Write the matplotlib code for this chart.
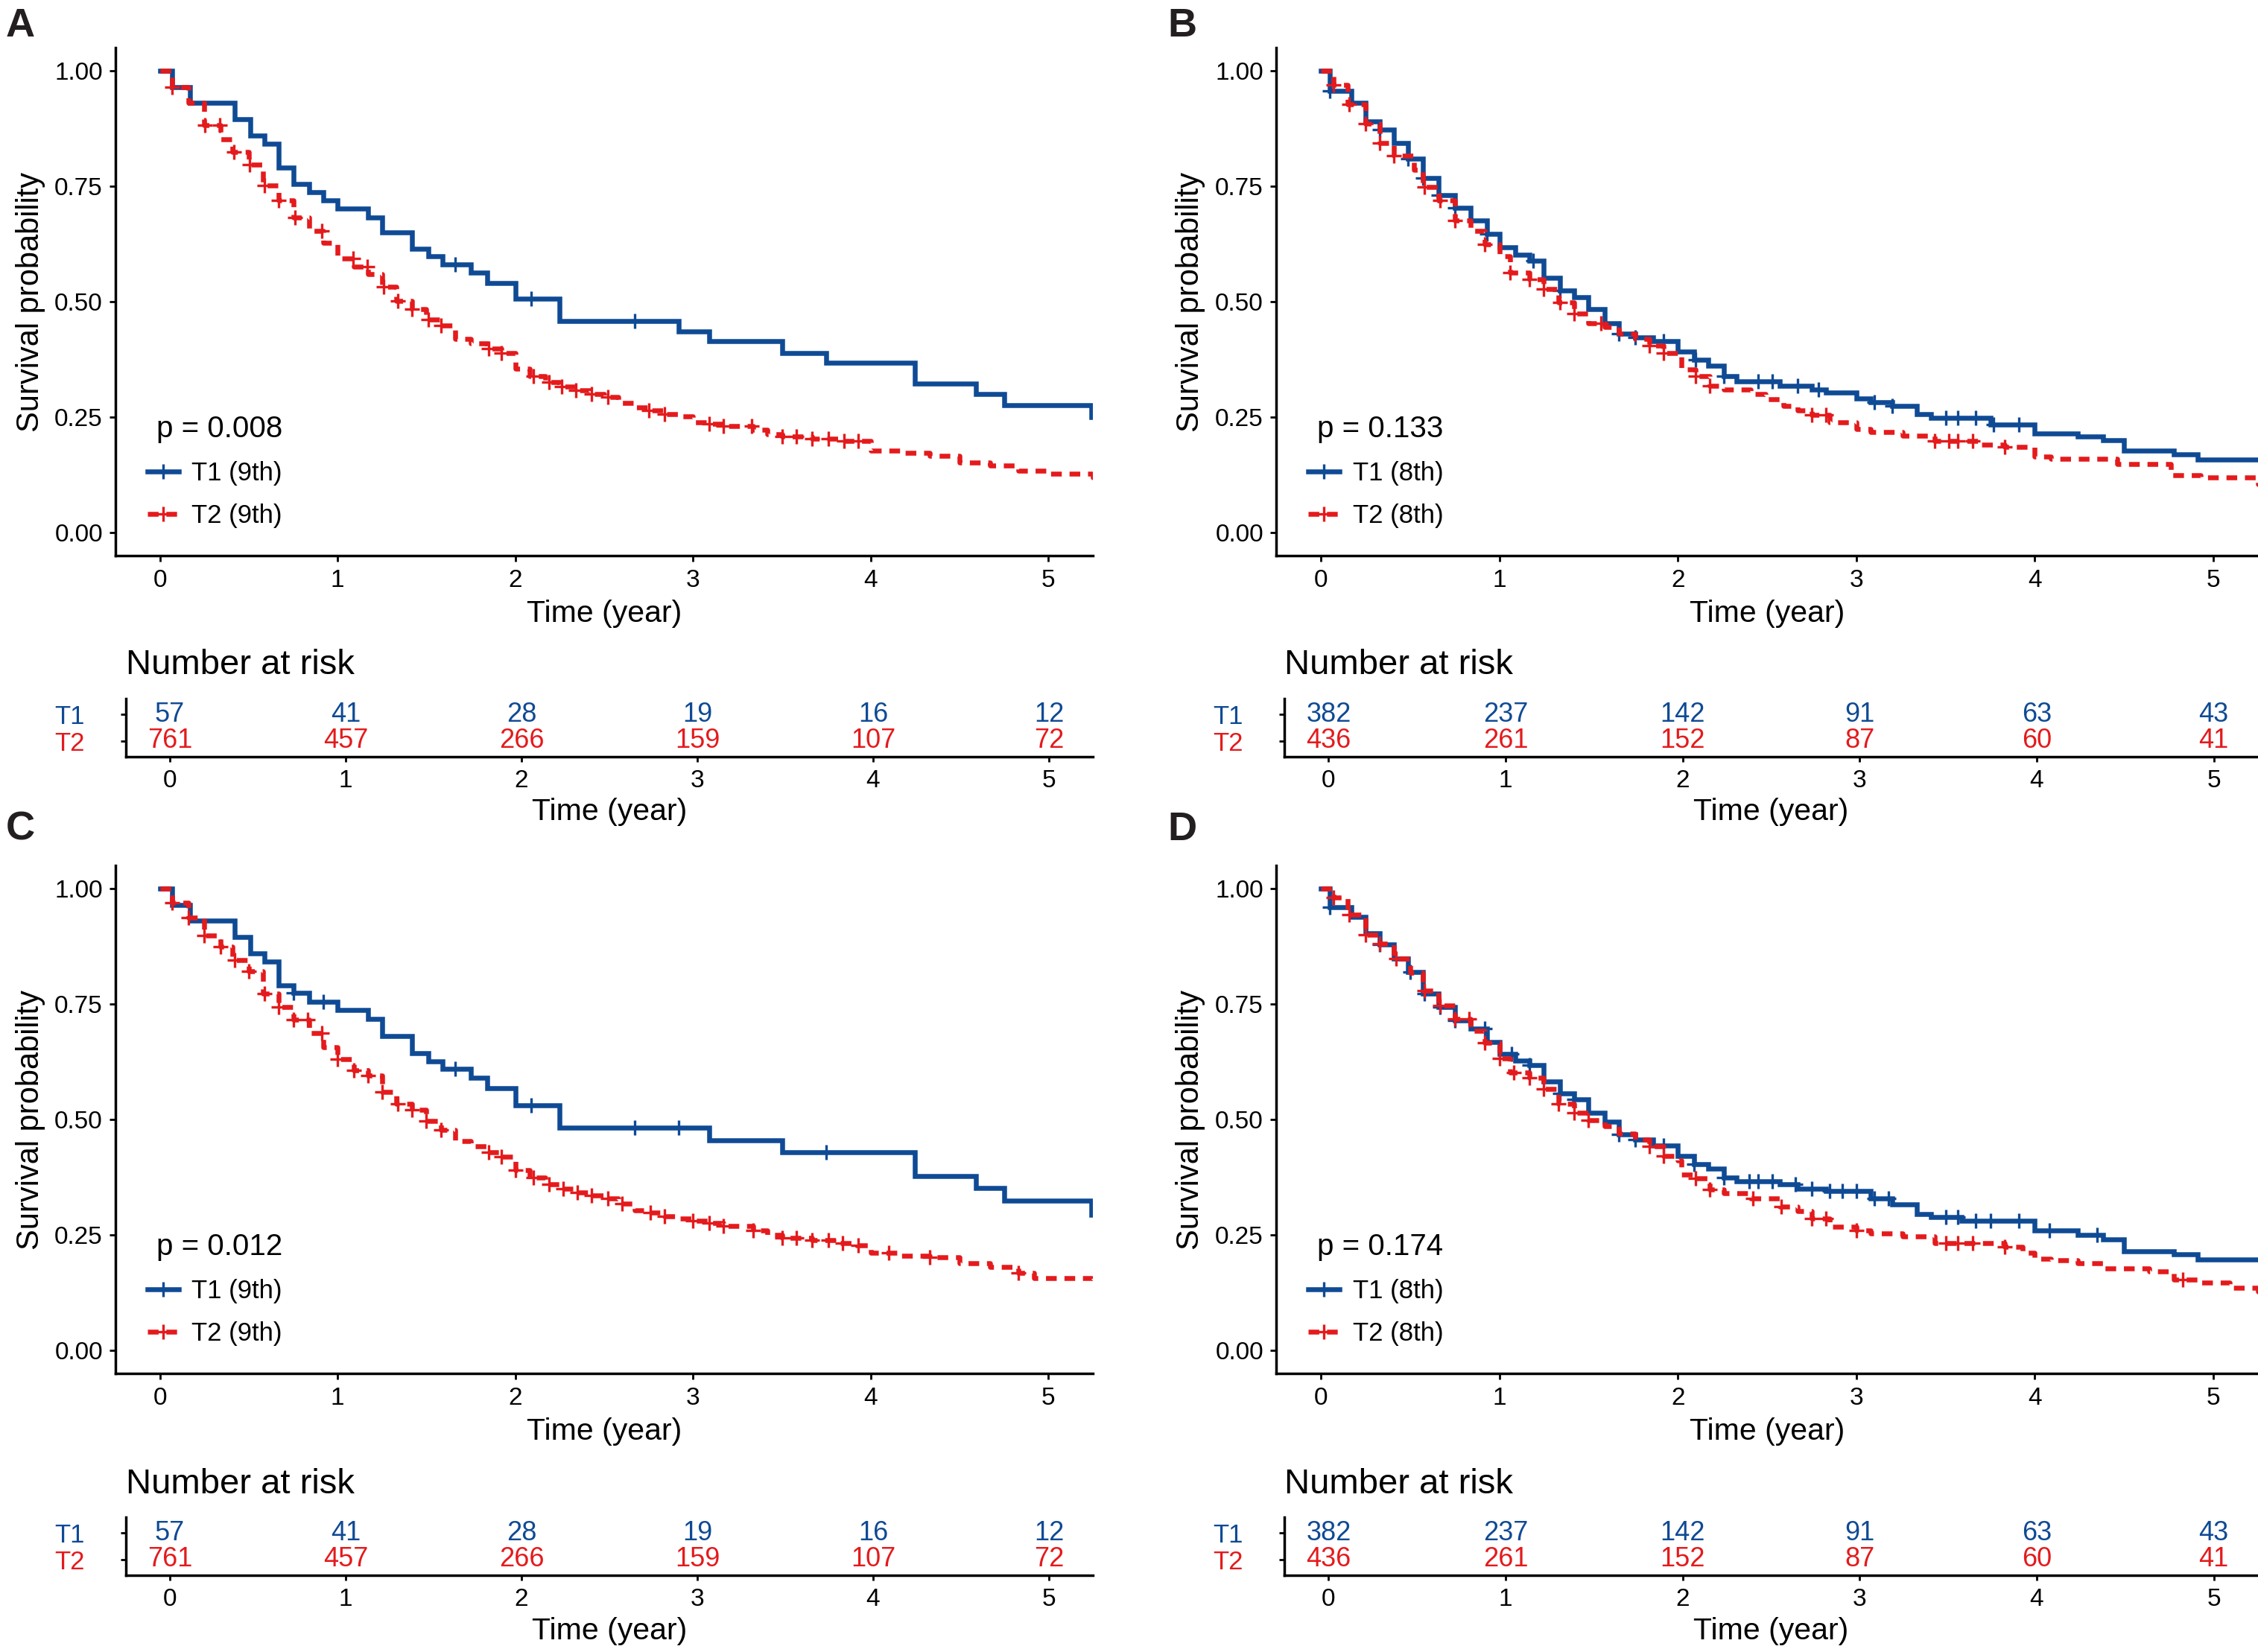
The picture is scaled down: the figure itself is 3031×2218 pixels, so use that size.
import numpy as np
import matplotlib
matplotlib.use('Agg')
import matplotlib.pyplot as plt
from matplotlib.lines import Line2D

plt.rcParams['font.family'] = ['Liberation Sans', 'DejaVu Sans']

# ---------------- data ----------------
years = [0, 1, 2, 3, 4, 5]

# Panel A: 9th edition
A_T1_t = [0, 0.07, 0.17, 0.42, 0.51, 0.59, 0.67, 0.75, 0.84, 0.92,
          1.0, 1.17, 1.25, 1.42, 1.51, 1.59, 1.75, 1.84, 2.0, 2.25,
          2.92, 3.09, 3.5, 3.75, 4.25, 4.59, 4.75, 5.24, 5.3]
A_T1_s = [1.0, 0.965, 0.93, 0.895, 0.86, 0.842, 0.79, 0.755, 0.737, 0.72,
          0.702, 0.683, 0.65, 0.615, 0.598, 0.58, 0.563, 0.541, 0.506, 0.458,
          0.436, 0.414, 0.389, 0.367, 0.322, 0.300, 0.276, 0.25, 0.25]
A_T1_c = [1.66, 2.09, 2.67]
A_T2_t = [0, 0.07, 0.16, 0.25, 0.34, 0.41, 0.5, 0.58, 0.67, 0.75,
          0.84, 0.92, 1.0, 1.09, 1.17, 1.25, 1.33, 1.42, 1.5, 1.58,
          1.66, 1.75, 1.84, 1.92, 2.0, 2.08, 2.17, 2.25, 2.34, 2.42,
          2.5, 2.58, 2.67, 2.75, 2.84, 2.92, 3.0, 3.09, 3.17, 3.34,
          3.42, 3.5, 3.67, 3.83, 4.0, 4.17, 4.33, 4.5, 4.67, 4.83,
          5.0, 5.25, 5.3]
A_T2_s = [1.0, 0.965, 0.93, 0.882, 0.851, 0.825, 0.796, 0.751, 0.72, 0.683,
          0.654, 0.628, 0.593, 0.576, 0.56, 0.532, 0.501, 0.484, 0.462, 0.449,
          0.42, 0.409, 0.399, 0.388, 0.355, 0.339, 0.326, 0.316, 0.308, 0.30,
          0.293, 0.28, 0.271, 0.265, 0.256, 0.252, 0.239, 0.236, 0.231, 0.223,
          0.213, 0.208, 0.204, 0.199, 0.178, 0.173, 0.166, 0.151, 0.145, 0.134,
          0.127, 0.119, 0.119]
A_T2_c = [0.07, 0.255, 0.336, 0.417, 0.506, 0.59, 0.67, 0.76, 0.91, 1.086,
          1.167, 1.26, 1.34, 1.42, 1.51, 1.58, 1.85, 1.92, 2.1, 2.19,
          2.26, 2.34, 2.43, 2.52, 2.75, 2.84, 3.09, 3.17, 3.33, 3.5,
          3.58, 3.67, 3.76, 3.85, 3.93]

# Panel B: 8th edition
B_T1_t = [0, 0.05, 0.17, 0.25, 0.33, 0.41, 0.49, 0.57, 0.66, 0.75,
          0.84, 0.93, 1.0, 1.09, 1.17, 1.25, 1.34, 1.42, 1.5, 1.59,
          1.67, 1.76, 1.86, 2.0, 2.09, 2.17, 2.26, 2.33, 2.57, 2.75,
          2.83, 3.0, 3.08, 3.2, 3.34, 3.42, 3.75, 4.0, 4.24, 4.38,
          4.5, 4.78, 4.91, 5.3]
B_T1_s = [1.0, 0.956, 0.93, 0.89, 0.873, 0.843, 0.809, 0.768, 0.731, 0.703,
          0.676, 0.647, 0.618, 0.602, 0.589, 0.551, 0.525, 0.51, 0.484, 0.453,
          0.431, 0.423, 0.414, 0.392, 0.374, 0.361, 0.339, 0.328, 0.318, 0.309,
          0.304, 0.291, 0.282, 0.275, 0.256, 0.248, 0.234, 0.215, 0.208, 0.20,
          0.178, 0.169, 0.158, 0.158]
B_T1_c = [0.05, 0.33, 0.49, 0.57, 0.66, 0.75, 0.93, 1.19, 1.34, 1.67,
          1.76, 1.92, 2.1, 2.26, 2.45, 2.53, 2.67, 2.79, 3.1, 3.2,
          3.5, 3.57, 3.67, 3.77, 3.91]
B_T2_t = [0, 0.07, 0.15, 0.25, 0.33, 0.41, 0.52, 0.57, 0.66, 0.75,
          0.84, 0.92, 1.0, 1.06, 1.17, 1.25, 1.33, 1.42, 1.5, 1.59,
          1.67, 1.76, 1.84, 1.92, 2.02, 2.1, 2.18, 2.26, 2.41, 2.49,
          2.59, 2.67, 2.75, 2.85, 3.0, 3.08, 3.26, 3.44, 3.69, 3.83,
          4.0, 4.09, 4.46, 4.76, 4.93, 5.25, 5.3]
B_T2_s = [1.0, 0.97, 0.927, 0.886, 0.843, 0.816, 0.786, 0.749, 0.72, 0.676,
          0.654, 0.624, 0.598, 0.563, 0.549, 0.528, 0.499, 0.475, 0.453, 0.445,
          0.431, 0.42, 0.405, 0.388, 0.353, 0.338, 0.318, 0.31, 0.30, 0.289,
          0.274, 0.265, 0.255, 0.239, 0.224, 0.217, 0.21, 0.199, 0.19, 0.185,
          0.164, 0.16, 0.149, 0.125, 0.12, 0.105, 0.105]
B_T2_c = [0.07, 0.16, 0.25, 0.33, 0.41, 0.58, 0.67, 0.75, 0.92, 1.06,
          1.17, 1.25, 1.34, 1.42, 1.57, 1.84, 1.92, 2.1, 2.18, 2.75,
          2.83, 3.44, 3.52, 3.57, 3.65, 3.83]

# Panel C: 9th edition
C_T1_t = [0, 0.07, 0.17, 0.42, 0.51, 0.59, 0.67, 0.75, 0.84, 1.0,
          1.17, 1.25, 1.42, 1.51, 1.59, 1.75, 1.84, 2.0, 2.25, 3.09,
          3.5, 4.25, 4.59, 4.75, 5.24, 5.3]
C_T1_s = [1.0, 0.965, 0.93, 0.895, 0.86, 0.842, 0.79, 0.775, 0.755, 0.737,
          0.718, 0.68, 0.643, 0.626, 0.61, 0.591, 0.567, 0.531, 0.482, 0.455,
          0.429, 0.377, 0.352, 0.324, 0.294, 0.294]
C_T1_c = [0.75, 0.92, 1.66, 2.09, 2.67, 2.92, 3.75]
C_T2_t = [0, 0.07, 0.16, 0.25, 0.34, 0.41, 0.5, 0.58, 0.67, 0.75,
          0.84, 0.92, 1.0, 1.09, 1.17, 1.25, 1.33, 1.42, 1.5, 1.58,
          1.66, 1.75, 1.84, 1.92, 2.0, 2.08, 2.17, 2.25, 2.34, 2.42,
          2.5, 2.58, 2.67, 2.75, 2.84, 2.92, 3.0, 3.09, 3.17, 3.34,
          3.42, 3.5, 3.67, 3.83, 3.92, 4.0, 4.17, 4.33, 4.5, 4.67,
          4.83, 4.92, 5.25, 5.3]
C_T2_s = [1.0, 0.97, 0.937, 0.899, 0.875, 0.845, 0.821, 0.773, 0.744, 0.716,
          0.687, 0.656, 0.63, 0.606, 0.595, 0.56, 0.534, 0.521, 0.497, 0.477,
          0.453, 0.442, 0.429, 0.42, 0.39, 0.374, 0.359, 0.35, 0.342, 0.336,
          0.329, 0.318, 0.304, 0.298, 0.291, 0.285, 0.28, 0.276, 0.269, 0.259,
          0.25, 0.243, 0.239, 0.232, 0.228, 0.211, 0.205, 0.202, 0.189, 0.18,
          0.167, 0.157, 0.145, 0.145]
C_T2_c = [0.07, 0.16, 0.25, 0.34, 0.42, 0.5, 0.59, 0.67, 0.75, 0.83,
          0.91, 1.0, 1.09, 1.17, 1.25, 1.34, 1.42, 1.5, 1.58, 1.85,
          1.92, 2.0, 2.1, 2.19, 2.27, 2.35, 2.43, 2.52, 2.6, 2.76,
          2.84, 3.0, 3.09, 3.17, 3.34, 3.5, 3.58, 3.67, 3.76, 3.84,
          3.93, 4.1, 4.33, 4.83]

# Panel D: 8th edition
D_T1_t = [0, 0.05, 0.17, 0.25, 0.33, 0.41, 0.49, 0.57, 0.66, 0.75,
          0.84, 0.93, 1.0, 1.09, 1.17, 1.25, 1.34, 1.42, 1.5, 1.59,
          1.67, 1.76, 1.86, 2.0, 2.09, 2.17, 2.26, 2.33, 2.57, 2.67,
          2.83, 3.08, 3.2, 3.34, 3.42, 3.59, 4.0, 4.24, 4.38, 4.5,
          4.78, 4.91, 5.3]
D_T1_s = [1.0, 0.96, 0.939, 0.904, 0.879, 0.849, 0.82, 0.773, 0.744, 0.715,
          0.696, 0.667, 0.642, 0.628, 0.617, 0.582, 0.556, 0.543, 0.514, 0.495,
          0.467, 0.456, 0.444, 0.421, 0.404, 0.394, 0.374, 0.366, 0.36, 0.35,
          0.345, 0.329, 0.316, 0.295, 0.288, 0.281, 0.259, 0.25, 0.241, 0.215,
          0.208, 0.196, 0.189]
D_T1_c = [0.05, 0.33, 0.5, 0.58, 0.67, 0.75, 0.92, 1.07, 1.17, 1.34,
          1.42, 1.67, 1.76, 1.92, 2.09, 2.26, 2.4, 2.45, 2.53, 2.66,
          2.75, 2.85, 2.92, 3.0, 3.1, 3.18, 3.5, 3.57, 3.67, 3.75,
          3.91, 4.08, 4.35]
D_T2_t = [0, 0.07, 0.15, 0.25, 0.33, 0.41, 0.5, 0.57, 0.66, 0.75, 0.84,
          0.92, 1.0, 1.06, 1.17, 1.25, 1.33, 1.42, 1.5, 1.59, 1.67,
          1.76, 1.84, 1.92, 2.0, 2.02, 2.1, 2.18, 2.26, 2.41, 2.57,
          2.67, 2.75, 2.85, 3.0, 3.08, 3.26, 3.44, 3.69, 3.83, 3.93,
          4.0, 4.09, 4.24, 4.38, 4.64, 4.78, 4.91, 5.09, 5.25, 5.3]
D_T2_s = [1.0, 0.98, 0.943, 0.90, 0.88, 0.849, 0.818, 0.779, 0.747, 0.718, 0.692,
          0.666, 0.633, 0.602, 0.591, 0.566, 0.534, 0.514, 0.499, 0.486, 0.47,
          0.456, 0.442, 0.421, 0.412, 0.381, 0.372, 0.348, 0.34, 0.329, 0.311,
          0.302, 0.285, 0.267, 0.26, 0.254, 0.246, 0.233, 0.232, 0.224, 0.211,
          0.198, 0.195, 0.189, 0.178, 0.171, 0.154, 0.147, 0.136, 0.128, 0.128]
D_T2_c = [0.07, 0.16, 0.25, 0.33, 0.42, 0.58, 0.67, 0.75, 0.83, 0.92,
          1.0, 1.08, 1.17, 1.25, 1.33, 1.42, 1.5, 1.84, 1.92, 2.1,
          2.18, 2.42, 2.58, 2.75, 2.83, 3.0, 3.5, 3.57, 3.65, 3.83,
          4.83]

risk_9th_T1 = [57, 41, 28, 19, 16, 12]
risk_9th_T2 = [761, 457, 266, 159, 107, 72]
risk_8th_T1 = [382, 237, 142, 91, 63, 43]
risk_8th_T2 = [436, 261, 152, 87, 60, 41]

p_values = ['p = 0.008', 'p = 0.133', 'p = 0.012', 'p = 0.174']
legend_9th = ['T1 (9th)', 'T2 (9th)']
legend_8th = ['T1 (8th)', 'T2 (8th)']
panel_letters = ['A', 'B', 'C', 'D']

# ---------------- styling ----------------
BLUE = '#0F4A94'
RED = '#E41A1C'
LW = 4.7
DASH = (0, (2.2, 1.6))
MS = 14.5
MEW = 2.4
SPINE = 2.5

W, H = 3031, 2218
fig = plt.figure(figsize=(W / 100, H / 100), dpi=100)


def add_ax(l, t, r, b):
    return fig.add_axes([l / W, 1 - b / H, (r - l) / W, (b - t) / H])


def surv_at(times, surv, c):
    idx = np.searchsorted(np.asarray(times), np.asarray(c), side='right') - 1
    return np.asarray(surv)[idx]


def km_panel(ax, curves, labels, ptext):
    handles = []
    for (t, s, c), col, ls in zip(curves, [BLUE, RED], ['-', DASH]):
        ax.step(t, s, where='post', color=col, lw=LW, linestyle=ls,
                dash_capstyle='butt', solid_joinstyle='miter')
        ax.plot(c, surv_at(t, s, c), ls='none', marker='+', ms=MS, mew=MEW,
                color=col)
        handles.append(Line2D([], [], color=col, lw=LW, linestyle=ls,
                              dash_capstyle='butt', marker='+', ms=MS,
                              mew=MEW))
    ax.set_xlim(-0.25, 5.25)
    ax.set_ylim(-0.05, 1.05)
    ax.set_xticks(years)
    ax.set_yticks([0, 0.25, 0.5, 0.75, 1.0])
    ax.set_yticklabels(['0.00', '0.25', '0.50', '0.75', '1.00'])
    for sp in ['top', 'right']:
        ax.spines[sp].set_visible(False)
    for sp in ['left', 'bottom']:
        ax.spines[sp].set_linewidth(SPINE)
    ax.tick_params(axis='both', labelsize=24, length=5.8, width=2.0,
                   colors='black')
    ax.tick_params(axis='y', pad=6.5)
    ax.tick_params(axis='x', pad=7)
    ax.set_ylabel('Survival probability', fontsize=30, va='center')
    ax.yaxis.set_label_coords(-0.087, 0.5)
    ax.set_xlabel('Time (year)', fontsize=29.5, va='center')
    ax.xaxis.set_label_coords(0.5, -0.114)
    ax.text(0.042, 0.249, ptext, transform=ax.transAxes, fontsize=29,
            va='center', ha='left')
    ax.legend(handles, labels, loc='center left', bbox_to_anchor=(0.033, 0.12),
              frameon=False, fontsize=25, handlelength=1.2,
              handletextpad=0.5, labelspacing=0.7, borderpad=0,
              borderaxespad=0, numpoints=1)


def risk_panel(ax, r1, r2, title_y, xlab_y):
    ax.set_xlim(-0.25, 5.25)
    ax.set_ylim(0.4, 2.6)
    for x, n1, n2 in zip(years, r1, r2):
        ax.text(x, 2, str(n1), ha='center', va='center', color=BLUE,
                fontsize=26)
        ax.text(x, 1, str(n2), ha='center', va='center', color=RED,
                fontsize=26)
    ax.set_xticks(years)
    ax.set_yticks([2, 1])
    ax.set_yticklabels(['T1', 'T2'], fontsize=25)
    for lab, col in zip(ax.get_yticklabels(), [BLUE, RED]):
        lab.set_color(col)
    for sp in ['top', 'right']:
        ax.spines[sp].set_visible(False)
    for sp in ['left', 'bottom']:
        ax.spines[sp].set_linewidth(SPINE)
    ax.tick_params(axis='x', labelsize=24, length=5, width=2.0, pad=7)
    ax.tick_params(axis='y', length=5, width=2.0, pad=35)
    ax.set_xlabel('Time (year)', fontsize=29.5, va='center')
    ax.xaxis.set_label_coords(0.5, xlab_y)
    ax.text(0, title_y, 'Number at risk', transform=ax.transAxes,
            fontsize=34, va='center', ha='left')


panels = [
    dict(main=(155, 64, 1467, 746), tab=(169, 938, 1467, 1016),
         curves=[(A_T1_t, A_T1_s, A_T1_c), (A_T2_t, A_T2_s, A_T2_c)],
         labels=legend_9th, p=p_values[0], r1=risk_9th_T1, r2=risk_9th_T2,
         letter=(8, 49), ty=1.577, xy=-0.949),
    dict(main=(1713, 64, 3031, 746), tab=(1724, 938, 3031, 1016),
         curves=[(B_T1_t, B_T1_s, B_T1_c), (B_T2_t, B_T2_s, B_T2_c)],
         labels=legend_8th, p=p_values[1], r1=risk_8th_T1, r2=risk_8th_T2,
         letter=(1567, 49), ty=1.577, xy=-0.949),
    dict(main=(155, 1162, 1467, 1844), tab=(169, 2037, 1467, 2115),
         curves=[(C_T1_t, C_T1_s, C_T1_c), (C_T2_t, C_T2_s, C_T2_c)],
         labels=legend_9th, p=p_values[2], r1=risk_9th_T1, r2=risk_9th_T2,
         letter=(8, 1128), ty=1.56, xy=-0.96),
    dict(main=(1713, 1162, 3031, 1844), tab=(1724, 2037, 3031, 2115),
         curves=[(D_T1_t, D_T1_s, D_T1_c), (D_T2_t, D_T2_s, D_T2_c)],
         labels=legend_8th, p=p_values[3], r1=risk_8th_T1, r2=risk_8th_T2,
         letter=(1567, 1128), ty=1.56, xy=-0.96),
]

for P, letter in zip(panels, panel_letters):
    ax = add_ax(*P['main'])
    km_panel(ax, P['curves'], P['labels'], P['p'])
    tab = add_ax(*P['tab'])
    risk_panel(tab, P['r1'], P['r2'], P['ty'], P['xy'])
    lx, ly = P['letter']
    fig.text(lx / W, 1 - ly / H, letter, fontsize=39, fontweight='bold',
             ha='left', va='baseline', color='#231F20')

fig.savefig('out.png', dpi=100)
